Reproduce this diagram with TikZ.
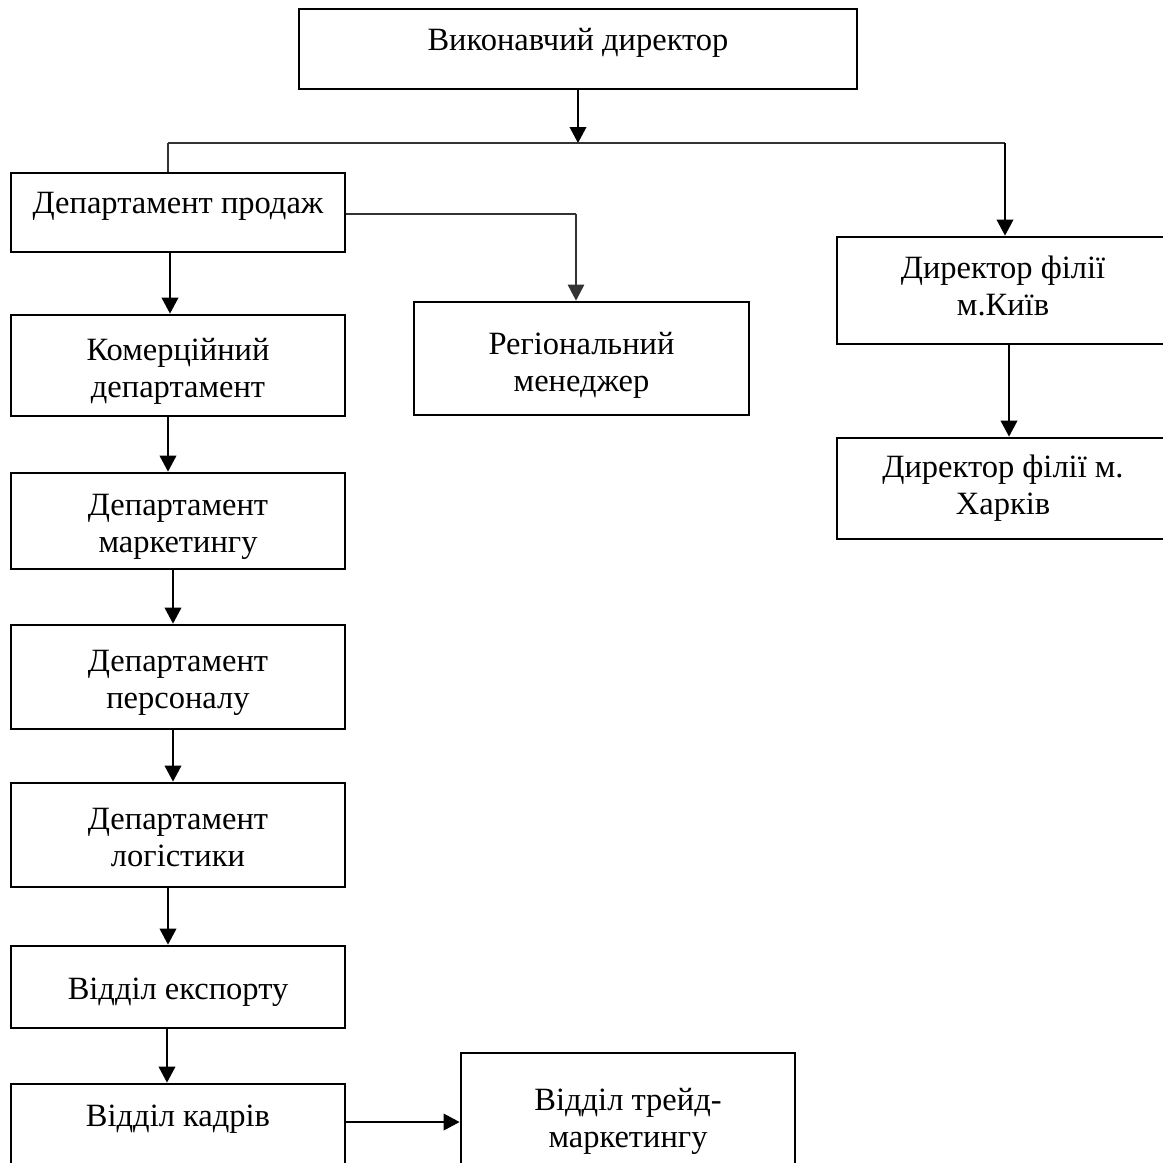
\documentclass[tikz,border=0pt]{standalone}
\usepackage{fontspec}
\setmainfont{Liberation Serif}
\usetikzlibrary{arrows.meta}
\begin{document}
\begin{tikzpicture}[x=0.4pt,y=-0.4pt,
  box/.style={draw, line width=1.1pt, rectangle, inner sep=0pt},
  txt/.style={inner sep=0pt, align=center,
    font=\fontsize{13pt}{14.8pt}\selectfont},
  arr/.style={line width=0.85pt, -{Triangle[length=6.4pt,width=6.6pt]}},
  thin/.style={line width=0.5pt, draw=black!80},
  thinarr/.style={line width=0.5pt, draw=black!80, -{Triangle[length=6.4pt,width=6.6pt]}}]
\useasboundingbox (0,0) rectangle (1163,1162);
\clip (0,0) rectangle (1163,1162);

% boxes
\node[box, minimum width=223.2pt, minimum height=32pt]   (exec)  at (578,49) {};
\node[box, minimum width=133.6pt, minimum height=31.6pt] (sales) at (178,212.5) {};
\node[box, minimum width=134pt,   minimum height=45.2pt] (reg)   at (581.5,358.5) {};
\node[box, minimum width=132.8pt, minimum height=42.8pt] (kyiv)  at (1003,290.5) {};
\node[box, minimum width=132.8pt, minimum height=40.4pt] (khar)  at (1003,488.5) {};
\node[box, minimum width=133.6pt, minimum height=40.4pt] (comm)  at (178,365.5) {};
\node[box, minimum width=133.6pt, minimum height=38.4pt] (mkt)   at (178,521) {};
\node[box, minimum width=133.6pt, minimum height=41.6pt] (pers)  at (178,677) {};
\node[box, minimum width=133.6pt, minimum height=41.6pt] (log)   at (178,835) {};
\node[box, minimum width=133.6pt, minimum height=32.8pt] (exp)   at (178,987) {};
\node[box, minimum width=133.6pt, minimum height=32.8pt] (hr)    at (178,1125) {};
\node[box, minimum width=133.6pt, minimum height=50.8pt] (trade) at (628,1116.5) {};

% box labels
\node[txt] (exec-t)  at ([yshift=2.5pt]exec.center)  {Виконавчий директор};
\node[txt] (sales-t) at ([yshift=2.5pt]sales.center) {Департамент продаж};
\node[txt] (reg-t)   at ([yshift=-2.8pt]reg.center)  {Регіональний\\менеджер};
\node[txt] (kyiv-t)  at ([yshift=2pt]kyiv.center)    {Директор філії\\м.Київ};
\node[txt] (khar-t)  at (khar.center)                {Директор філії м.\\Харків};
\node[txt] (comm-t)  at ([yshift=-2.4pt]comm.center) {Комерційний\\департамент};
\node[txt] (mkt-t)   at ([yshift=-2.4pt]mkt.center)  {Департамент\\маркетингу};
\node[txt] (pers-t)  at ([yshift=-2.4pt]pers.center) {Департамент\\персоналу};
\node[txt] (log-t)   at ([yshift=-0.8pt]log.center)  {Департамент\\логістики};
\node[txt] (exp-t)   at ([yshift=-2pt]exp.center)    {Відділ експорту};
\node[txt] (hr-t)    at ([yshift=2.5pt]hr.center)    {Відділ кадрів};
\node[txt] (trade-t) at ([yshift=-2pt]trade.center)  {Відділ трейд-\\маркетингу};

% branching from the executive
\coordinate (split) at (578,143);
\coordinate (bl) at (168,143);
\coordinate (br) at (1005,143);
\coordinate (sr) at (576,214);
\draw[arr] (exec.south) -- (split);
\draw[thin] (bl) -- (br);
\draw[thin] (bl) -- (bl |- sales.north);
\draw[arr] (br) -- (br |- kyiv.north);
\draw[thin] (sales.east |- sr) -- (sr);
\draw[thinarr] (sr) -- (sr |- reg.north);

% vertical chain
\draw[arr] ([xshift=-3.2pt]sales.south) -- ([xshift=-3.2pt]comm.north);
\draw[arr] ([xshift=-4pt]comm.south) -- ([xshift=-4pt]mkt.north);
\draw[arr] ([xshift=-2pt]mkt.south) -- ([xshift=-2pt]pers.north);
\draw[arr] ([xshift=-2pt]pers.south) -- ([xshift=-2pt]log.north);
\draw[arr] ([xshift=-4pt]log.south) -- ([xshift=-4pt]exp.north);
\draw[arr] ([xshift=-4.4pt]exp.south) -- ([xshift=-4.4pt]hr.north);
\draw[arr] ([yshift=1.2pt]hr.east) -- ([yshift=1.2pt]hr.east -| trade.west);
\draw[arr] ([xshift=2.4pt]kyiv.south) -- ([xshift=2.4pt]khar.north);
\end{tikzpicture}
\end{document}
